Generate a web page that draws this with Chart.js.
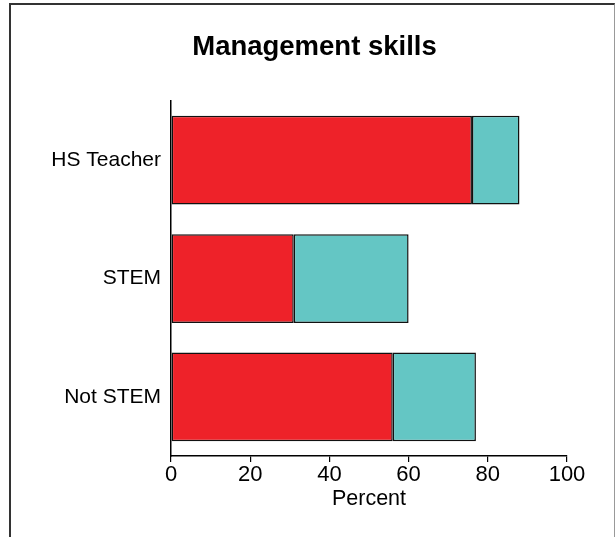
<!DOCTYPE html>
<html>
<head>
<meta charset="utf-8">
<script src="https://cdn.jsdelivr.net/npm/chart.js@4"></script>
<style>
  html, body { margin: 0; padding: 0; background: #fff; }
  #wrap { position: relative; width: 616px; height: 537px; overflow: hidden; }
  #frame {
    position: absolute; left: 9px; top: 3px; width: 603px; height: 600px;
    border-top: 2px solid #333; border-left: 2px solid #333; border-right: 1px solid #999;
    pointer-events: none;
  }
</style>
</head>
<body>
<div id="wrap">
  <canvas id="chart" width="616" height="537"></canvas>
  <div id="frame"></div>
</div>
<script>
// data
const categories = ['HS Teacher', 'STEM', 'Not STEM'];
const redValues = [76, 31, 56];
const tealValues = [12, 29, 21];
const xTicks = [0, 20, 40, 60, 80, 100];

Chart.defaults.font.family = "'Liberation Sans', Arial, sans-serif";
Chart.defaults.color = '#000';

// title sits a bit right of the padded box, so nudge it after layout
const titleShift = {
    id: 'titleShift',
    afterLayout(chart) {
        const t = chart.titleBlock;
        if (t) { t.left += 26; t.right += 26; }
    }
};

const ctx = document.getElementById('chart').getContext('2d');
const chart = new Chart(ctx, {
    type: 'bar',
    data: {
        labels: categories,
        datasets: [
            {
                label: 'Series 1',
                data: redValues,
                backgroundColor: '#ee2229',
                borderColor: '#111',
                borderWidth: 1.5,
                borderSkipped: false
            },
            {
                label: 'Series 2',
                data: tealValues,
                backgroundColor: '#64c6c4',
                borderColor: '#111',
                borderWidth: 1.5,
                borderSkipped: false
            }
        ]
    },
    plugins: [titleShift],
    options: {
        indexAxis: 'y',
        responsive: false,
        animation: false,
        barPercentage: 0.75,
        categoryPercentage: 1,
        layout: { padding: { left: 10, right: 49, top: 0, bottom: 0 } },
        plugins: {
            legend: { display: false },
            tooltip: { enabled: false },
            title: {
                display: true,
                text: 'Management skills',
                font: { size: 27.5, weight: 'bold' },
                color: '#000',
                padding: { top: 31.2, bottom: 36.8 }
            }
        },
        scales: {
            x: {
                stacked: true,
                min: 0,
                max: 100,
                afterBuildTicks: (scale) => { scale.ticks = xTicks.map(v => ({ value: v })); },
                afterFit: (scale) => { scale.height = 81; },
                grid: { display: true, drawOnChartArea: false, drawTicks: true, tickLength: 6, color: '#000', lineWidth: 1.2 },
                border: { display: true, color: '#000', width: 1.5 },
                ticks: { font: { size: 22 }, padding: 0, maxRotation: 0 },
                title: { display: true, text: 'Percent', font: { size: 21.5 }, padding: { top: 0, bottom: 25.5 } }
            },
            y: {
                stacked: true,
                afterFit: (scale) => { scale.width = 161; },
                grid: { display: false, drawTicks: false },
                border: { display: true, color: '#000', width: 1.5 },
                ticks: { font: { size: 21 }, padding: 10 }
            }
        }
    }
});
</script>
</body>
</html>
